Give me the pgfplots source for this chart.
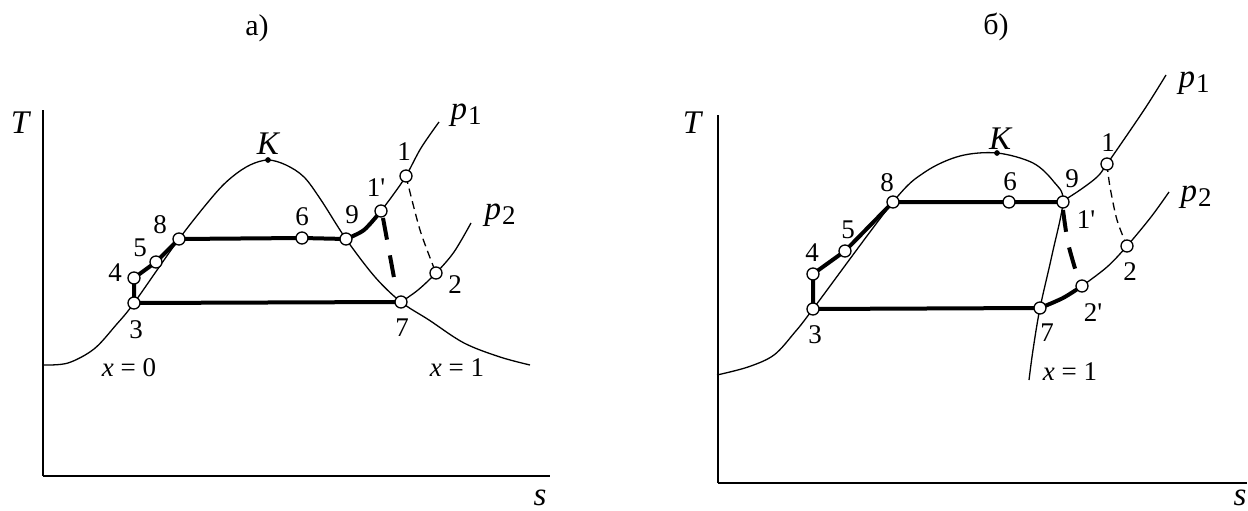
\documentclass[border=0pt]{standalone}
\usepackage{fontspec}
\setmainfont{Liberation Serif}[Ligatures=TeXOff]
\usepackage{pgfplots}
\pgfplotsset{compat=1.18}

% T-s diagrams of a steam power cycle: a) wet-vapour case, b) dry (retrograde) fluid
\pgfplotsset{
  ts/.style={
    x=0.5pt, y=0.5pt,
    axis x line*=bottom, axis y line*=left,
    xtick=\empty, ytick=\empty,
    clip=false,
    axis line style={line width=0.6pt},
    anchor=south west,
  },
  curve/.style={line width=0.65pt, smooth, tension=0.55, mark=none},
  heavy/.style={line width=2pt, mark=none},
  state/.style={only marks, mark=*, mark size=3pt,
    mark options={fill=white, draw=black, line width=0.65pt}},
}
\tikzset{
  num/.style={font=\fontsize{13.5}{15}\selectfont, inner sep=0pt},
  sym/.style={font=\fontsize{16.5}{18}\selectfont\itshape, inner sep=0pt},
  ttl/.style={font=\fontsize{15}{17}\selectfont, inner sep=0pt},
}
\newcommand{\pp}[1]{\textit{p}\kern0.5pt\raisebox{-0.35ex}{\upshape\fontsize{13.5}{15}\selectfont #1}}
\newcommand{\pr}{'}

\begin{document}
\begin{tikzpicture}
\useasboundingbox (0,0) rectangle (624pt,255pt);

% ---------------- a) ----------------
\begin{axis}[ts, at={(21.5pt,17pt)}, xmin=43, xmax=550, ymin=34, ymax=400]
  % saturation curve x=0 / x=1
  \addplot[curve] coordinates {(44,145) (68,147) (94,161) (116,185) (134,207) (179,271)
    (214,315) (232,333) (250,345) (268,350) (286,345) (304,333) (321,310) (346,271)
    (375,233) (401,208) (429,190) (464,167) (500,153) (530,145)};
  % isobar p1
  \addplot[curve] coordinates {(381,299) (393,315) (406,334) (421,362) (439,388)};
  \addplot[heavy, smooth] coordinates {(346,271) (364,280) (381,299)};
  % isobar p2
  \addplot[curve] coordinates {(401,208) (418,220) (436,237) (454,258) (471,287)};
  % expansion lines
  \addplot[line width=0.65pt, dash pattern=on 4pt off 2.5pt, smooth] coordinates {(406,334) (420,280) (436,237)};
  \addplot[heavy, dash pattern=on 11pt off 8pt] coordinates {(383,292) (395,227)};
  % cycle
  \addplot[heavy] coordinates {(134,207) (134,232) (156,248) (179,271) (302,272) (346,271)};
  \addplot[heavy] coordinates {(134,207) (401,208)};
  % critical point
  \addplot[only marks, mark=*, mark size=1.2pt] coordinates {(268,350)};
  % states
  \addplot[state] coordinates {(134,207) (134,232) (156,248) (179,271) (302,272)
    (346,271) (381,299) (406,334) (436,237) (401,208)};

  \node[sym] at (axis cs:268,366) {K};
  \node[num] at (axis cs:404,358) {1};
  \node[num] at (axis cs:376,322) {1\pr};
  \node[num] at (axis cs:352,295) {9};
  \node[num] at (axis cs:302,293) {6};
  \node[num] at (axis cs:160,285) {8};
  \node[num] at (axis cs:140,262) {5};
  \node[num] at (axis cs:115,237) {4};
  \node[num] at (axis cs:136,180) {3};
  \node[num] at (axis cs:402,182) {7};
  \node[num] at (axis cs:455,225) {2};
  \node[sym] at (axis cs:466,395) {\pp{1}};
  \node[sym] at (axis cs:500,295) {\pp{2}};
  \node[num] at (axis cs:129,142) {\textit{x} = 0};
  \node[num] at (axis cs:457,142) {\textit{x} = 1};
  \node[sym] at (axis cs:20,387) {T};
  \node[sym] at (axis cs:540,12) {s};
  \node[ttl] at (axis cs:257,482) {а)};
\end{axis}

% ---------------- b) ----------------
\begin{axis}[ts, at={(359pt,13.5pt)}, xmin=718, xmax=1247, ymin=27, ymax=395]
  % saturation curve, continued downward as x=1
  \addplot[curve] coordinates {(717,135) (748,143) (774,155) (795,178) (813,201) (893,308)
    (925,338) (960,354) (997,357) (1033,347) (1054,328) (1063,309)
    (1052,255) (1040,202) (1033,160) (1029,130)};
  % isobar p1
  \addplot[curve] coordinates {(1063,309) (1080,320) (1097,333) (1107,346) (1144,400) (1166,435)};
  % isobar p2
  \addplot[heavy, smooth] coordinates {(1040,202) (1063,212) (1082,224)};
  \addplot[curve] coordinates {(1082,224) (1107,243) (1127,264) (1151,293) (1169,318)};
  % expansion lines
  \addplot[line width=0.65pt, dash pattern=on 4pt off 2.5pt, smooth] coordinates {(1107,346) (1110,323) (1117,290) (1127,264)};
  \addplot[heavy, dash pattern=on 11pt off 8pt, smooth] coordinates {(1063,300) (1068,267) (1077,235)};
  % cycle
  \addplot[heavy] coordinates {(813,201) (813,236) (845,259) (893,308) (1009,308) (1063,308)};
  \addplot[heavy] coordinates {(813,201) (1040,202)};
  % critical point
  \addplot[only marks, mark=*, mark size=1.2pt] coordinates {(997,357)};
  % states
  \addplot[state] coordinates {(813,201) (813,236) (845,259) (893,308) (1009,308)
    (1063,308) (1107,346) (1127,264) (1082,224) (1040,202)};

  \node[sym] at (axis cs:1000,371) {K};
  \node[num] at (axis cs:887,327) {8};
  \node[num] at (axis cs:1010,328) {6};
  \node[num] at (axis cs:1072,331) {9};
  \node[num] at (axis cs:1086,290) {1\pr};
  \node[num] at (axis cs:1108,367) {1};
  \node[num] at (axis cs:848,280) {5};
  \node[num] at (axis cs:812,257) {4};
  \node[num] at (axis cs:815,175) {3};
  \node[num] at (axis cs:1047,177) {7};
  \node[num] at (axis cs:1093,197) {2\pr};
  \node[num] at (axis cs:1130,238) {2};
  \node[num] at (axis cs:1070,138) {\textit{x} = 1};
  \node[sym] at (axis cs:1194,427) {\pp{1}};
  \node[sym] at (axis cs:1196,313) {\pp{2}};
  \node[sym] at (axis cs:692,387) {T};
  \node[sym] at (axis cs:1240,12) {s};
  \node[ttl] at (axis cs:996,483) {б)};
\end{axis}
\end{tikzpicture}
\end{document}
